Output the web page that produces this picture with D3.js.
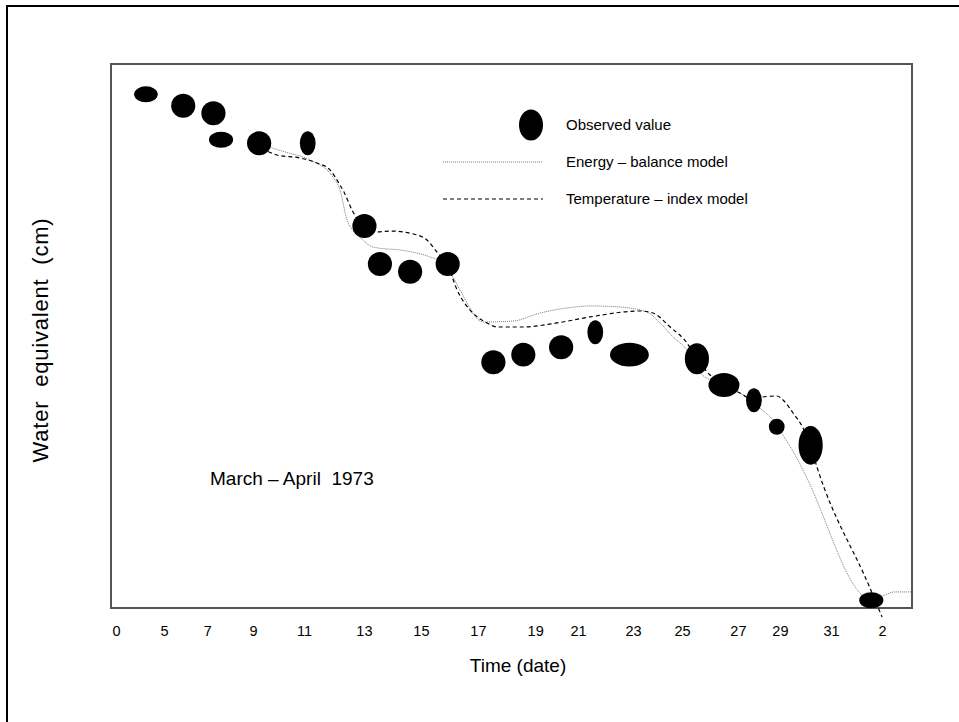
<!DOCTYPE html>
<html>
<head>
<meta charset="utf-8">
<script src="https://cdn.jsdelivr.net/npm/d3@7"></script>
<style>
  html, body { margin: 0; padding: 0; background: #fff; }
  svg text { font-family: "Liberation Sans", Arial, sans-serif; fill: #000; }
</style>
</head>
<body>
<div class="display"></div>
<script>
// observed snow water equivalent (day of March; April 1 = 32)
const obsDay = [4.93, 6.35, 7.50, 7.79, 9.24, 11.09, 13.25, 13.84, 14.99, 16.42, 18.16,
  19.30, 20.74, 22.04, 23.34, 25.91, 26.94, 28.08, 28.95, 30.24, 32.55];
const obsWater = [37.77, 36.93, 36.38, 34.43, 34.17, 34.17, 28.09, 25.29, 24.73, 25.29, 18.07,
  18.63, 19.17, 20.27, 18.63, 18.33, 16.40, 15.27, 13.33, 11.96, 0.57];
// spread of each observation (half width in days, half height in cm)
const obsSpreadDay = [0.45, 0.46, 0.46, 0.46, 0.46, 0.30, 0.46, 0.46, 0.46, 0.46, 0.46,
  0.46, 0.46, 0.30, 0.74, 0.46, 0.59, 0.30, 0.30, 0.46, 0.46];
const obsSpreadWater = [0.59, 0.88, 0.88, 0.59, 0.88, 0.88, 0.88, 0.88, 0.88, 0.88, 0.88,
  0.88, 0.88, 0.88, 0.88, 1.14, 0.88, 0.88, 0.59, 1.43, 0.59];

const energyDay = [9.35, 10.23, 11.18, 12.05, 12.32, 12.59, 13.08, 13.58, 14.87, 15.75, 16.17,
  16.62, 16.89, 17.77, 18.91, 19.94, 20.96, 21.95, 22.98, 24.01, 24.51, 25.00, 25.53, 26.03,
  26.94, 27.55, 28.39, 28.81, 29.23, 29.65, 30.06, 32.12, 32.43, 33.07, 33.42, 34.10];
const energyWater = [34.04, 33.53, 32.94, 31.69, 30.74, 28.53, 27.28, 26.54, 26.25, 25.81, 25.44,
  24.34, 23.38, 21.03, 21.10, 21.69, 22.06, 22.21, 22.13, 21.76, 20.96, 19.93, 18.97, 17.28,
  16.40, 15.81, 14.56, 13.82, 12.57, 11.25, 9.71, 1.10, 0.59, 0.96, 1.18, 1.18];

const tempDay = [9.35, 9.92, 10.80, 11.44, 11.94, 12.32, 12.47, 12.78, 13.16, 13.73, 14.22,
  15.25, 15.63, 16.01, 16.43, 16.78, 17.38, 17.92, 18.30, 19.29, 20.58, 21.84, 23.74, 24.24,
  24.89, 25.53, 25.91, 26.41, 26.94, 27.55, 28.08, 28.39, 28.96, 29.19, 29.57, 29.95, 30.22,
  30.48, 32.50, 32.96];
const tempWater = [33.82, 33.31, 33.09, 32.72, 32.21, 31.10, 30.59, 29.26, 28.16, 27.65, 27.72,
  27.43, 27.06, 26.18, 25.15, 23.38, 21.69, 20.96, 20.66, 20.66, 20.96, 21.40, 21.84, 21.69,
  20.66, 19.49, 18.31, 17.13, 16.40, 15.81, 15.29, 15.51, 15.59, 15.29, 14.34, 13.24, 11.99,
  10.37, 1.47, -0.66];

const tickAt = [3.79, 5.62, 7.27, 9.01, 10.95, 13.23, 15.40, 17.57, 19.75, 21.38, 23.48,
  25.34, 27.47, 29.07, 31.02, 32.96];
const tickLabels = ['0', '5', '7', '9', '11', '13', '15', '17', '19', '21', '23',
  '25', '27', '29', '31', '2'];

const legendLabels = ['Observed value', 'Energy \u2013 balance model', 'Temperature \u2013 index model'];

const width = 959;
const height = 722;
const plot = {left: 111, top: 64, right: 912, bottom: 608};

const x = d3.scaleLinear().domain([3.6, 34.1]).range([plot.left, plot.right]);
const y = d3.scaleLinear().domain([0, 40]).range([plot.bottom, plot.top]);

const svg = d3.select('.display')
  .append('svg')
  .attr('width', width)
  .attr('height', height);

// outer frame, runs off the right and bottom edges
svg.append('rect')
  .attr('x', 7).attr('y', 6)
  .attr('width', 970).attr('height', 730)
  .attr('fill', 'none')
  .attr('stroke', '#000')
  .attr('stroke-width', 2);

svg.append('rect')
  .attr('x', plot.left).attr('y', plot.top)
  .attr('width', plot.right - plot.left)
  .attr('height', plot.bottom - plot.top)
  .attr('fill', 'none')
  .attr('stroke', '#555')
  .attr('stroke-width', 2);

const line = (xs, ys) => d3.line()
  .x(i => x(xs[i]))
  .y(i => y(ys[i]))
  .curve(d3.curveMonotoneX)(d3.range(xs.length));

svg.append('path')
  .attr('d', line(energyDay, energyWater))
  .attr('fill', 'none')
  .attr('stroke', '#777')
  .attr('stroke-width', 1)
  .attr('stroke-dasharray', '1,1');

svg.append('path')
  .attr('d', line(tempDay, tempWater))
  .attr('fill', 'none')
  .attr('stroke', '#000')
  .attr('stroke-width', 1.2)
  .attr('stroke-dasharray', '4,3');

svg.append('g')
  .selectAll('ellipse')
  .data(d3.range(obsDay.length))
  .enter()
  .append('ellipse')
  .attr('cx', i => x(obsDay[i]))
  .attr('cy', i => y(obsWater[i]))
  .attr('rx', i => x(obsDay[i] + obsSpreadDay[i]) - x(obsDay[i]))
  .attr('ry', i => y(obsWater[i]) - y(obsWater[i] + obsSpreadWater[i]))
  .attr('fill', '#000');

// x axis: labels only, no tick marks
const xAxis = d3.axisBottom(x)
  .tickValues(tickAt)
  .tickFormat((d, i) => tickLabels[i])
  .tickSize(0)
  .tickPadding(0);

const axisG = svg.append('g')
  .attr('transform', `translate(0, ${plot.bottom + 18})`)
  .call(xAxis);
axisG.select('.domain').remove();
axisG.selectAll('text')
  .style('font-family', '"Liberation Sans", Arial, sans-serif')
  .style('font-size', '14.5px');

svg.append('text')
  .attr('x', 518).attr('y', 672)
  .attr('text-anchor', 'middle')
  .style('font-size', '19px')
  .text('Time (date)');

svg.append('text')
  .attr('transform', `translate(48, ${(plot.top + plot.bottom) / 2 + 4}) rotate(-90)`)
  .attr('text-anchor', 'middle')
  .style('font-size', '22px')
  .style('letter-spacing', '0.8px')
  .style('white-space', 'pre')
  .text('Water  equivalent  (cm)');

svg.append('text')
  .attr('x', 210).attr('y', 485)
  .style('font-size', '19px')
  .style('white-space', 'pre')
  .text('March \u2013 April  1973');

// legend
const legend = svg.append('g').attr('id', 'legend');
legend.append('ellipse')
  .attr('cx', 531).attr('cy', 125)
  .attr('rx', 12).attr('ry', 15.5)
  .attr('fill', '#000');
legend.append('line')
  .attr('x1', 443).attr('x2', 543).attr('y1', 162).attr('y2', 162)
  .attr('stroke', '#777').attr('stroke-width', 1).attr('stroke-dasharray', '1,1');
legend.append('line')
  .attr('x1', 443).attr('x2', 543).attr('y1', 199).attr('y2', 199)
  .attr('stroke', '#000').attr('stroke-width', 1.2).attr('stroke-dasharray', '4,3');
legend.selectAll('text')
  .data(legendLabels)
  .enter()
  .append('text')
  .attr('x', 566)
  .attr('y', (d, i) => 130 + i * 37)
  .style('font-size', '15px')
  .text(d => d);
</script>
</body>
</html>
